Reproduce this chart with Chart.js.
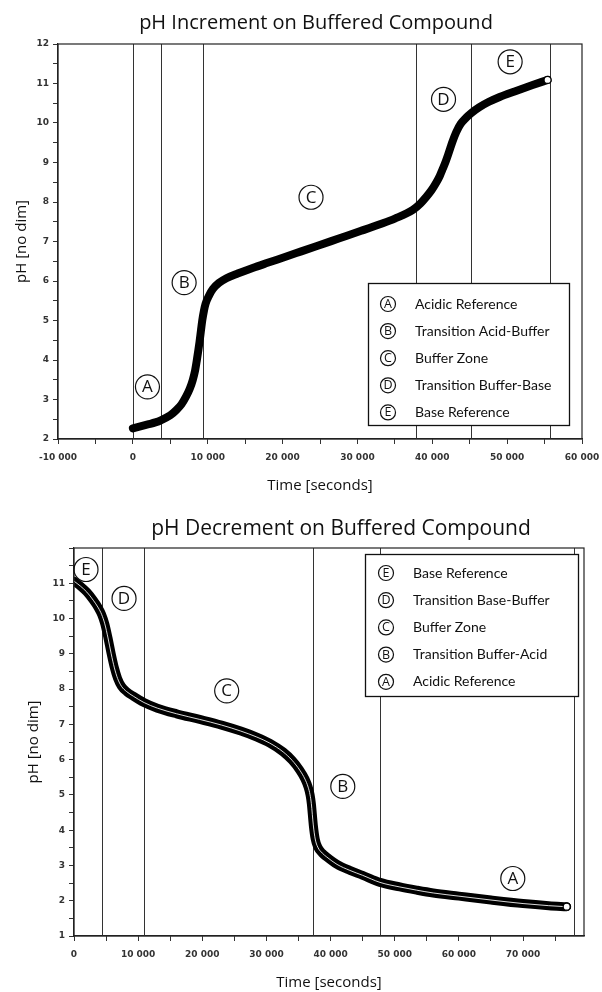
<!DOCTYPE html>
<html><head><meta charset="utf-8">
<script src="https://cdn.jsdelivr.net/npm/chart.js@4.4.1/dist/chart.umd.min.js"></script>
<style>
html,body{margin:0;padding:0;background:#fff;}
canvas{position:absolute;left:0;display:block;}
#c1{top:0;}
#c2{top:500px;}
</style></head><body>
<canvas id="c1" width="602" height="500"></canvas>
<canvas id="c2" width="602" height="492"></canvas>
<script>
// ---------- DATA: pH increment ----------
const incTime = [0, 1000, 2000, 3000, 3800, 5000, 5800, 6500, 7100, 7600, 8000, 8300, 8550, 8750, 8900, 9100, 9270, 9500, 9710, 10200, 10700, 11500, 12500, 14000, 16000, 18000, 20500, 22500, 24500, 26500, 28500, 30500, 32900, 35000, 37400, 38400, 39200, 39900, 40500, 41000, 41400, 41800, 42100, 42400, 42700, 43200, 43800, 44500, 45200, 46300, 47500, 49000, 51000, 53400, 55400];
const incPH   = [2.27, 2.32, 2.37, 2.42, 2.48, 2.60, 2.73, 2.88, 3.07, 3.27, 3.49, 3.72, 4.00, 4.25, 4.45, 4.75, 5.00, 5.25, 5.42, 5.64, 5.80, 5.95, 6.07, 6.19, 6.33, 6.46, 6.62, 6.75, 6.88, 7.01, 7.14, 7.27, 7.43, 7.58, 7.80, 7.96, 8.13, 8.30, 8.48, 8.66, 8.84, 9.03, 9.19, 9.36, 9.53, 9.77, 9.98, 10.13, 10.25, 10.40, 10.53, 10.66, 10.80, 10.96, 11.09];
const incBounds = [0, 3800, 9400, 37800, 45200, 55700];
const incLetters = ['A', 'B', 'C', 'D', 'E'];
const incNames = ['Acidic Reference', 'Transition Acid-Buffer', 'Buffer Zone', 'Transition Buffer-Base', 'Base Reference'];
const incXTicks = [-10000, -5000, 0, 5000, 10000, 15000, 20000, 25000, 30000, 35000, 40000, 45000, 50000, 55000, 60000];
const incYTicks = [2, 2.5, 3, 3.5, 4, 4.5, 5, 5.5, 6, 6.5, 7, 7.5, 8, 8.5, 9, 9.5, 10, 10.5, 11, 11.5, 12];

// ---------- DATA: pH decrement ----------
const decTime = [0, 1000, 2000, 3000, 3800, 4300, 4800, 5300, 5800, 6300, 6800, 7400, 8200, 9240, 10900, 13000, 16000, 19600, 23000, 26000, 28500, 30500, 32600, 34000, 35200, 36000, 36500, 36800, 37000, 37300, 37600, 38000, 38700, 39400, 41000, 43000, 45000, 47700, 50800, 53400, 56000, 60000, 65000, 70000, 74000, 76800];
const decPH   = [11.06, 10.92, 10.75, 10.52, 10.30, 10.12, 9.85, 9.45, 9.00, 8.60, 8.30, 8.08, 7.93, 7.80, 7.62, 7.46, 7.30, 7.14, 6.98, 6.81, 6.64, 6.47, 6.22, 5.98, 5.70, 5.45, 5.22, 5.00, 4.75, 4.15, 3.75, 3.52, 3.35, 3.24, 3.03, 2.86, 2.72, 2.52, 2.39, 2.30, 2.22, 2.13, 2.02, 1.92, 1.86, 1.83];
const decBounds = [4300, 10900, 37300, 47700, 78000];
const decLetters = ['E', 'D', 'C', 'B', 'A'];
const decNames = ['Base Reference', 'Transition Base-Buffer', 'Buffer Zone', 'Transition Buffer-Acid', 'Acidic Reference'];
const decXTicks = [0, 5000, 10000, 15000, 20000, 25000, 30000, 35000, 40000, 45000, 50000, 55000, 60000, 65000, 70000, 75000];
const decYTicks = [1, 1.5, 2, 2.5, 3, 3.5, 4, 4.5, 5, 5.5, 6, 6.5, 7, 7.5, 8, 8.5, 9, 9.5, 10, 10.5, 11, 11.5, 12];

// ---------- annotation placement (data coordinates) ----------
const incMarkAt = {A: [1950, 3.32], B: [6850, 5.96], C: [23800, 8.12], D: [41500, 10.6], E: [50400, 11.55]};
const decMarkAt = {E: [1870, 11.39], D: [7800, 10.57], C: [23800, 7.95], B: [41900, 5.24], A: [68400, 2.63]};

const INK = '#111';
function fmt(v) {
  const s = String(Math.abs(v)).replace(/\B(?=(\d{3})+(?!\d))/g, ' ');
  return (v < 0 ? '-' : '') + s;
}
function circled(ctx, x, y, r, letter, size) {
  ctx.save();
  ctx.beginPath();
  ctx.arc(x, y, r, 0, Math.PI * 2);
  ctx.strokeStyle = INK; ctx.lineWidth = 1.2; ctx.stroke();
  ctx.fillStyle = INK;
  ctx.font = size + 'px "Open Sans"';
  ctx.textAlign = 'center'; ctx.textBaseline = 'middle';
  ctx.fillText(letter, x, y + 0.5);
  ctx.restore();
}

const zonePlugin = {
  id: 'zones',
  beforeDatasetsDraw(chart, args, o) {
    const ctx = chart.ctx, a = chart.chartArea, xs = chart.scales.x;
    ctx.save();
    ctx.strokeStyle = '#333'; ctx.lineWidth = 1;
    o.bounds.forEach(b => {
      const px = Math.round(xs.getPixelForValue(b)) + 0.5;
      ctx.beginPath(); ctx.moveTo(px, a.top); ctx.lineTo(px, a.bottom); ctx.stroke();
    });
    ctx.restore();
  },
  afterDraw(chart, args, o) {
    const ctx = chart.ctx, a = chart.chartArea, xs = chart.scales.x, ys = chart.scales.y;
    ctx.save();
    ctx.strokeStyle = '#222'; ctx.lineWidth = 1.2;
    ctx.strokeRect(a.left, a.top, a.right - a.left, a.bottom - a.top);
    ctx.restore();
    ctx.save();
    ctx.fillStyle = INK; ctx.font = o.titleSize + 'px "Open Sans"';
    ctx.textAlign = 'center'; ctx.textBaseline = 'alphabetic';
    ctx.fillText(o.title, o.titleX, o.titleY);
    ctx.restore();
    Object.keys(o.marks).forEach(k => {
      const p = o.marks[k];
      circled(ctx, xs.getPixelForValue(p[0]), ys.getPixelForValue(p[1]), 12, k, 17);
    });
    const L = o.legend;
    ctx.save();
    ctx.fillStyle = '#fff';
    ctx.fillRect(L.x, L.y, L.w, L.h);
    ctx.strokeStyle = '#111'; ctx.lineWidth = 1.3;
    ctx.strokeRect(L.x + 0.5, L.y + 0.5, L.w, L.h);
    ctx.restore();
    o.letters.forEach((l, i) => {
      const cy = L.y + L.first + i * L.step;
      circled(ctx, L.cx, cy, 7.5, l, 12.5);
      ctx.save();
      ctx.fillStyle = INK; ctx.font = '14px Lato';
      ctx.textAlign = 'left'; ctx.textBaseline = 'middle';
      ctx.fillText(o.names[i], L.tx, cy);
      ctx.restore();
    });
  }
};

function makeChart(id, cfg) {
  const pts = cfg.time.map((t, i) => ({x: t, y: cfg.ph[i]}));
  const last = pts.length - 1;
  const datasets = [{
    data: pts,
    borderColor: '#000',
    borderWidth: cfg.band,
    borderCapStyle: 'round',
    cubicInterpolationMode: 'monotone',
    pointRadius: c => c.dataIndex === last ? 3.5 : 0,
    pointBackgroundColor: '#fff',
    pointBorderColor: '#000',
    pointBorderWidth: 1.2,
    fill: false,
    order: 2
  }];
  if (cfg.inner) {
    datasets.push({
      data: pts,
      borderColor: 'rgba(255,255,255,0.85)',
      borderWidth: 1,
      cubicInterpolationMode: 'monotone',
      pointRadius: c => c.dataIndex === last ? 3.5 : 0,
      pointBackgroundColor: '#fff',
      pointBorderColor: '#000',
      pointBorderWidth: 1.2,
      fill: false,
      order: 1
    });
  }
  const tickFont = {family: '"DejaVu Sans"', size: 9, weight: 'bold'};
  return new Chart(document.getElementById(id), {
    type: 'line',
    data: {datasets},
    plugins: [zonePlugin],
    options: {
      responsive: false,
      animation: false,
      devicePixelRatio: 1,
      layout: {padding: {left: 0, right: cfg.padRight, top: cfg.padTop, bottom: 0}},
      plugins: {
        legend: {display: false},
        tooltip: {enabled: false},
        title: {display: false},
        zones: {
          bounds: cfg.bounds, marks: cfg.marks, letters: cfg.letters, names: cfg.names,
          legend: cfg.legend, title: cfg.title, titleX: cfg.titleX, titleY: cfg.titleY, titleSize: cfg.titleSize
        }
      },
      scales: {
        x: {
          type: 'linear', min: cfg.xmin, max: cfg.xmax,
          afterBuildTicks: s => { s.ticks = cfg.xTicks.map(v => ({value: v})); },
          afterFit: s => { s.height = cfg.xH; s.paddingRight = 0; s.paddingLeft = 0; },
          ticks: {
            callback: v => (v % 10000 === 0 ? fmt(v) : ''),
            font: tickFont, color: '#333', maxRotation: 0, autoSkip: false, padding: 8
          },
          grid: {drawOnChartArea: false, tickLength: 5, color: '#333', tickWidth: 1},
          border: {color: '#222', width: 1.2},
          title: {display: true, text: 'Time [seconds]', color: INK,
                  font: {family: '"Open Sans"', size: 15}, padding: {top: 0, bottom: cfg.xTitlePad}}
        },
        y: {
          type: 'linear', min: cfg.ymin, max: cfg.ymax,
          afterBuildTicks: s => { s.ticks = cfg.yTicks.map(v => ({value: v})); },
          afterFit: s => { s.width = cfg.yW; },
          ticks: {
            callback: v => (Number.isInteger(v) && v <= cfg.yLabelMax ? String(v) : ''),
            font: tickFont, color: '#333', autoSkip: false, padding: 4
          },
          grid: {drawOnChartArea: false, tickLength: 5, color: '#333', tickWidth: 1},
          border: {color: '#222', width: 1.2},
          title: {display: true, text: 'pH [no dim]', color: INK,
                  font: {family: '"Open Sans"', size: 15}, padding: {top: cfg.yTitlePad, bottom: 0}}
        }
      }
    }
  });
}

makeChart('c1', {
  time: incTime, ph: incPH, bounds: incBounds, letters: incLetters, names: incNames,
  marks: incMarkAt, xTicks: incXTicks, yTicks: incYTicks,
  xmin: -10000, xmax: 60000, ymin: 2, ymax: 12, yLabelMax: 12,
  padRight: 20, padTop: 44, xH: 61, yW: 58, xTitlePad: 5, yTitlePad: 13,
  title: 'pH Increment on Buffered Compound', titleX: 316, titleY: 29, titleSize: 20,
  legend: {x: 368, y: 283, w: 201, h: 142, first: 21, step: 27.1, cx: 388, tx: 415},
  band: 8, inner: false
});

makeChart('c2', {
  time: decTime, ph: decPH, bounds: decBounds, letters: decLetters, names: decNames,
  marks: decMarkAt, xTicks: decXTicks, yTicks: decYTicks,
  xmin: 0, xmax: 79500, ymin: 1, ymax: 12, yLabelMax: 11,
  padRight: 18, padTop: 48, xH: 56, yW: 74, xTitlePad: 0, yTitlePad: 25,
  title: 'pH Decrement on Buffered Compound', titleX: 341, titleY: 35, titleSize: 21,
  legend: {x: 365, y: 54, w: 213, h: 142, first: 19, step: 27.2, cx: 386, tx: 413},
  band: 9, inner: true
});
</script>
</body></html>
